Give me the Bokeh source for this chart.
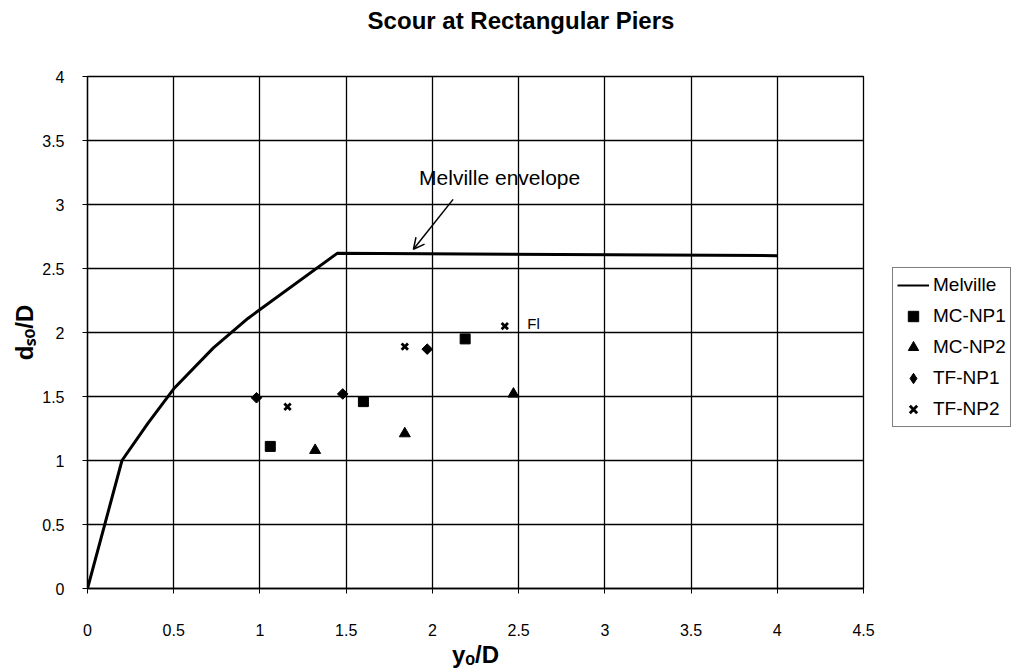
import math
from bokeh.plotting import figure
from bokeh.layouts import row, column
from bokeh.models import (Range1d, Legend, LegendItem, Label, Arrow, OpenHead,
                          FixedTicker, Div)
from bokeh.embed import file_html
from bokeh.resources import INLINE

# ---- data ----
melville_x = [0, 0.2, 0.35, 0.5, 0.73, 0.93, 1.45, 4.0]
melville_y = [0, 1.0, 1.29, 1.56, 1.88, 2.11, 2.62, 2.60]

mc_np1_x = [1.06, 1.60, 2.19]
mc_np1_y = [1.11, 1.46, 1.95]

mc_np2_x = [1.32, 1.84, 2.47]
mc_np2_y = [1.08, 1.21, 1.52]

tf_np1_x = [0.98, 1.48, 1.97]
tf_np1_y = [1.49, 1.52, 1.87]

tf_np2_x = [1.16, 1.84, 2.42]
tf_np2_y = [1.42, 1.89, 2.05]

series_names = ["Melville", "MC-NP1", "MC-NP2", "TF-NP1", "TF-NP2"]

x_ticks = [0, 0.5, 1, 1.5, 2, 2.5, 3, 3.5, 4, 4.5]
y_ticks = [0, 0.5, 1, 1.5, 2, 2.5, 3, 3.5, 4]

TITLE = "Scour at Rectangular Piers"
FONT = "Liberation Sans"

title_div = Div(
    text=("<div style=\"display:block;width:1011px;box-sizing:border-box;"
          "font-family:'Liberation Sans';font-weight:bold;"
          "font-size:24px;line-height:42px;text-align:center;"
          "padding-left:31px;color:black;\">" + TITLE + "</div>"),
    width=1011, height=42, margin=0)

p = figure(width=875, height=628, output_backend="svg", toolbar_location=None,
           x_range=Range1d(0, 4.5), y_range=Range1d(0, 4),
           min_border_left=87, min_border_right=12, min_border_top=34,
           min_border_bottom=77)

p.outline_line_color = "black"
p.outline_line_width = 1.3

for ax in (p.xaxis[0], p.yaxis[0]):
    ax.axis_line_color = "black"
    ax.axis_line_width = 1.3
    ax.major_tick_line_color = "black"
    ax.minor_tick_line_color = None
    ax.major_tick_out = 5
    ax.major_tick_in = 0
    ax.major_label_text_font = FONT
    ax.major_label_text_font_size = "16px"
    ax.major_label_text_color = "black"
    ax.axis_label_text_font = FONT
    ax.axis_label_text_font_size = "24px"
    ax.axis_label_text_font_style = "bold"
    ax.axis_label_text_color = "black"

p.xaxis.ticker = FixedTicker(ticks=x_ticks)
p.yaxis.ticker = FixedTicker(ticks=y_ticks)
p.xaxis.major_label_standoff = 30
p.yaxis.major_label_standoff = 18
p.xaxis.axis_label = "yₒ/D"
p.yaxis.axis_label = "dₛₒ/D"
p.xaxis.axis_label_standoff = 2
p.yaxis.axis_label_standoff = 1

p.xgrid.ticker = FixedTicker(ticks=x_ticks)
p.ygrid.ticker = FixedTicker(ticks=y_ticks)
p.grid.grid_line_color = "black"
p.grid.grid_line_width = 1.3
p.grid.grid_line_alpha = 1.0

p.line(melville_x, melville_y, line_color="black", line_width=3)
p.scatter(mc_np1_x, mc_np1_y, marker="square", size=10,
          fill_color="black", line_color="black")
p.scatter(mc_np2_x, mc_np2_y, marker="triangle", size=11,
          fill_color="black", line_color="black")
p.scatter(tf_np1_x, tf_np1_y, marker="square", size=7.5,
          angle=math.pi / 4, fill_color="black", line_color="black")
p.scatter(tf_np2_x, tf_np2_y, marker="x", size=9,
          line_color="black", line_width=2.8)

p.add_layout(Label(x=2.55, y=2.07, text="Fl", text_font=FONT,
                   text_font_size="15px", text_color="black",
                   text_baseline="middle"))

p.add_layout(Label(x=2.39, y=3.21, text="Melville envelope", text_font=FONT,
                   text_font_size="21px", text_color="black",
                   text_align="center", text_baseline="middle"))
p.add_layout(Arrow(x_start=2.12, y_start=3.04, x_end=1.89, y_end=2.65,
                   line_color="black", line_width=1.5,
                   end=OpenHead(size=11, line_color="black", line_width=1.5)))

# ---- legend panel (separate narrow figure to the right) ----
p2 = figure(width=136, height=628, output_backend="svg", toolbar_location=None,
            x_range=Range1d(0, 1), y_range=Range1d(0, 1), min_border=0)
p2.axis.visible = False
p2.grid.visible = False
p2.outline_line_color = None

# placeholder points lie outside p2's visible range; they only feed the legend
hx, hy = [-5], [-5]
l_mel = p2.line(x=[-5, -4], y=[-5, -5], line_color="black", line_width=2)
l_mc1 = p2.scatter(x=hx, y=hy, marker="square", size=10,
                   fill_color="black", line_color="black")
l_mc2 = p2.scatter(x=hx, y=hy, marker="triangle", size=11,
                   fill_color="black", line_color="black")
l_tf1 = p2.scatter(x=hx, y=hy, marker="diamond", size=12,
                   fill_color="black", line_color="black")
l_tf2 = p2.scatter(x=hx, y=hy, marker="x", size=9,
                   line_color="black", line_width=2.8)

legend = Legend(items=[
    LegendItem(label=name, renderers=[r])
    for name, r in zip(series_names, [l_mel, l_mc1, l_mc2, l_tf1, l_tf2])
], location=(17, 161))
legend.border_line_color = "black"
legend.border_line_width = 1
legend.label_text_font = FONT
legend.label_text_font_size = "19px"
legend.label_text_color = "black"
legend.glyph_width = 32
legend.glyph_height = 26
legend.label_height = 26
legend.spacing = 5
legend.padding = 4
legend.margin = 0
legend.label_standoff = 4
legend.background_fill_color = "white"
p2.add_layout(legend, "center")

layout = column(title_div, row(p, p2, spacing=0), spacing=0)
open("out.html", "w").write(file_html(layout, INLINE))
